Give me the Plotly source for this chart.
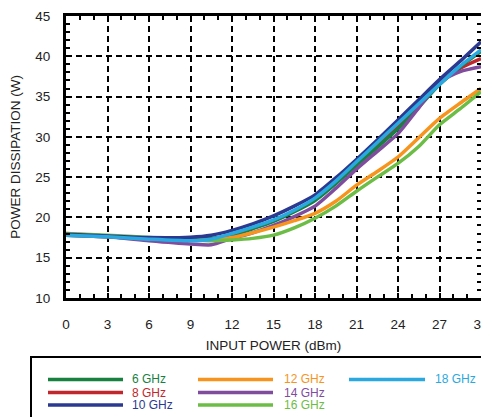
import plotly.graph_objects as go

# ---- data ----
input_power = [0, 3, 6, 9, 10.5, 12, 13.5, 15, 16.5, 18, 19.5, 21, 22.5, 24, 25.5, 27, 28.5, 30]

p_6ghz = [17.8, 17.6, 17.4, 17.3, 17.4, 17.8, 18.6, 19.5, 20.7, 22.1, 24.2, 26.5, 28.7, 31.0, 33.7, 36.5, 38.7, 40.6]
p_8ghz = [17.9, 17.7, 17.4, 17.2, 17.3, 17.9, 18.7, 19.6, 20.8, 22.2, 24.3, 26.6, 28.9, 31.25, 33.9, 36.6, 38.5, 39.7]
p_10ghz = [17.9, 17.7, 17.5, 17.55, 17.8, 18.4, 19.2, 20.2, 21.4, 22.8, 24.9, 27.2, 29.6, 32.1, 34.6, 37.1, 39.4, 41.8]
p_12ghz = [18.0, 17.7, 17.4, 17.2, 17.2, 17.5, 18.1, 18.8, 19.6, 20.5, 22.0, 24.0, 25.7, 27.5, 29.9, 32.3, 34.2, 36.0]
p_14ghz = [17.8, 17.6, 17.1, 16.7, 16.6, 17.4, 18.1, 19.0, 20.1, 21.4, 23.6, 26.0, 28.2, 30.4, 33.6, 36.8, 38.1, 38.7]
p_16ghz = [18.0, 17.8, 17.5, 17.2, 17.1, 17.2, 17.4, 17.8, 18.7, 19.9, 21.4, 23.25, 25.0, 26.7, 28.8, 31.5, 33.5, 35.6]
p_18ghz = [17.8, 17.6, 17.3, 17.1, 17.3, 18.0, 18.8, 19.7, 20.9, 22.4, 24.5, 26.9, 29.3, 31.7, 34.1, 36.5, 38.8, 40.8]

series_names = ["6 GHz", "8 GHz", "10 GHz", "12 GHz", "14 GHz", "16 GHz", "18 GHz"]
series_values = [p_6ghz, p_8ghz, p_10ghz, p_12ghz, p_14ghz, p_16ghz, p_18ghz]

x_ticks = [0, 3, 6, 9, 12, 15, 18, 21, 24, 27, 30]
y_ticks = [10, 15, 20, 25, 30, 35, 40, 45]

# ---- styles ----
colors = ["#17813f", "#c1272d", "#2b3990", "#f7941d", "#7f4c9e", "#6cbd45", "#29a9e0"]
draw_order = [1, 0, 4, 3, 5, 2, 6]
legend_cols = [0, 0, 0, 1, 1, 1, 2]
legend_rows = [0, 1, 2, 0, 1, 2, 0]

OFF = 8  # page body margin
W, H = 489 - OFF, 417 - OFF
ML, MR, MT, MB = 66 - OFF, 8, 16 - OFF, 119
PW, PH = W - ML - MR, H - MT - MB
FONT = "Liberation Sans, Arial, Helvetica, sans-serif"


def pxx(px):
    return (px - OFF - ML) / PW


def pxy(py):
    return (MT + PH - (py - OFF)) / PH


fig = go.Figure()
for i in draw_order:
    fig.add_trace(go.Scatter(
        x=input_power, y=series_values[i], name=series_names[i], mode="lines",
        line=dict(color=colors[i], width=3.5, shape="spline", smoothing=0.6),
        showlegend=False,
    ))

# ---- legend drawn below the plot ----
shapes = [dict(type="rect", xref="paper", yref="paper",
               x0=pxx(31), x1=pxx(520), y0=pxy(357), y1=pxy(440),
               line=dict(color="black", width=2), fillcolor="rgba(0,0,0,0)")]
annotations = []
col_line_x = [(48, 123), (198, 273), (349, 425)]
col_text_x = [130, 282, 433]
row_y = [379.5, 392.5, 405]
for i, name in enumerate(series_names):
    c, r = legend_cols[i], legend_rows[i]
    x0, x1 = col_line_x[c]
    shapes.append(dict(type="line", xref="paper", yref="paper",
                       x0=pxx(x0), x1=pxx(x1), y0=pxy(row_y[r]), y1=pxy(row_y[r]),
                       line=dict(color=colors[i], width=3.5)))
    annotations.append(dict(xref="paper", yref="paper", x=pxx(col_text_x[c]), y=pxy(row_y[r]),
                            text=name, showarrow=False, xanchor="left", yanchor="middle",
                            font=dict(family=FONT, size=12, color=colors[i])))

axis_common = dict(
    showline=True, linecolor="black", linewidth=3, mirror="ticks",
    ticks="inside", ticklen=5, tickwidth=2, tickcolor="black",
    showgrid=True, gridcolor="black", gridwidth=2, griddash="6px,4px",
    zeroline=False,
    tickfont=dict(family=FONT, size=13.5, color="#222"),
    minor=dict(ticks="inside", ticklen=4, tickwidth=1.5, tickcolor="black", dtick=1, showgrid=False),
)

fig.update_layout(
    width=W, height=H,
    margin=dict(l=ML, r=MR, t=MT, b=MB, autoexpand=False),
    paper_bgcolor="white", plot_bgcolor="white",
    font=dict(family=FONT, color="#222"),
    showlegend=False,
    xaxis=dict(range=[0, 30], tickmode="array", tickvals=x_ticks, ticktext=[str(v) for v in x_ticks],
               ticklabelstandoff=12,
               title=dict(text="INPUT POWER (dBm)", font=dict(family=FONT, size=13.5, color="#222"), standoff=10),
               **axis_common),
    yaxis=dict(range=[10, 45], tickmode="array", tickvals=y_ticks, ticktext=[str(v) for v in y_ticks],
               ticklabelstandoff=10,
               title=dict(text="POWER DISSIPATION (W)", font=dict(family=FONT, size=13.5, color="#222"), standoff=12),
               **axis_common),
    shapes=shapes,
    annotations=annotations,
)

fig.write_html("out.html")
